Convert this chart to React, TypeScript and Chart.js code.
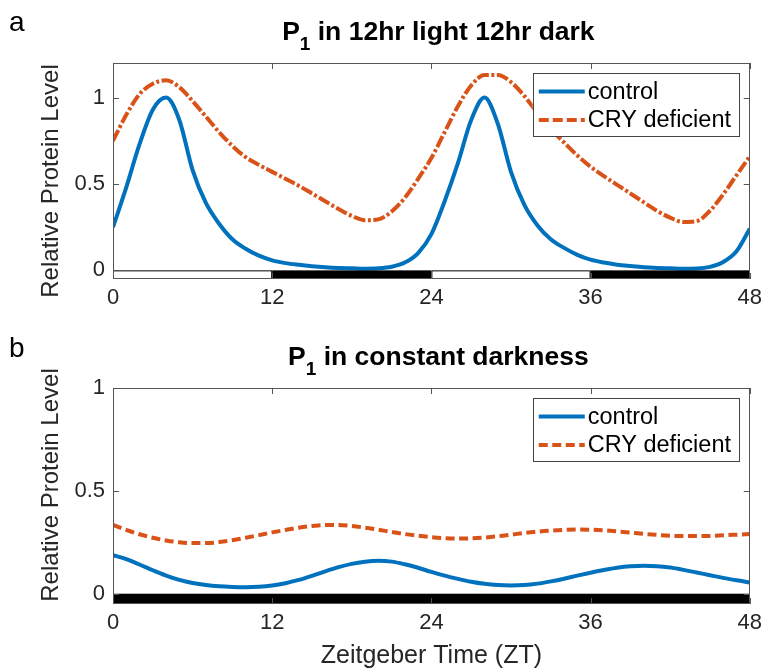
import React, { useEffect, useRef } from 'react';
import { Chart, registerables } from 'chart.js';

Chart.register(...registerables);

// ---------- data ----------
const hours = [
  0, 1, 2, 3, 4, 5, 6, 7, 8, 9, 10, 11, 12, 13, 14, 15, 16, 17, 18, 19, 20, 21, 22, 23, 24,
  25, 26, 27, 28, 29, 30, 31, 32, 33, 34, 35, 36, 37, 38, 39, 40, 41, 42, 43, 44, 45, 46, 47, 48,
];

// Panel a: 12hr light / 12hr dark
const ldControl = [
  0.25, 0.48, 0.73, 0.93, 1.0, 0.87, 0.58, 0.39, 0.27, 0.18, 0.125, 0.085, 0.058, 0.042, 0.032,
  0.024, 0.018, 0.014, 0.012, 0.01, 0.012, 0.021, 0.045, 0.1, 0.21, 0.4, 0.62, 0.87, 1.0, 0.85,
  0.57, 0.38, 0.26, 0.18, 0.13, 0.09, 0.062, 0.045, 0.033, 0.025, 0.018, 0.014, 0.012, 0.01, 0.011,
  0.02, 0.048, 0.11, 0.24,
];
const ldCry = [
  0.75, 0.9, 1.02, 1.08, 1.1, 1.06, 0.98, 0.89, 0.8, 0.72, 0.655, 0.61, 0.57, 0.53, 0.49, 0.445,
  0.4, 0.355, 0.315, 0.29, 0.295, 0.34, 0.42, 0.53, 0.65, 0.8, 0.95, 1.07, 1.13, 1.13, 1.09, 1.01,
  0.91, 0.82, 0.74, 0.665, 0.6, 0.545, 0.495, 0.445, 0.395, 0.345, 0.305, 0.28, 0.285, 0.345, 0.44,
  0.55, 0.66,
];

// Panel b: constant darkness
const ddControl = [
  0.188, 0.168, 0.142, 0.114, 0.088, 0.067, 0.052, 0.042, 0.036, 0.033, 0.032, 0.034, 0.04, 0.051,
  0.067, 0.087, 0.109, 0.129, 0.145, 0.155, 0.16, 0.156, 0.143, 0.126, 0.106, 0.088, 0.072, 0.058,
  0.048, 0.042, 0.04, 0.042, 0.049, 0.06, 0.073, 0.088, 0.102, 0.115, 0.126, 0.133, 0.136, 0.134,
  0.127, 0.116, 0.103, 0.09, 0.077, 0.065, 0.055,
];
const ddCry = [
  0.335, 0.31, 0.289, 0.272, 0.259, 0.25, 0.246, 0.246, 0.251, 0.26, 0.272, 0.285, 0.298, 0.31,
  0.321, 0.329, 0.334, 0.334, 0.329, 0.321, 0.311, 0.3, 0.29, 0.282, 0.275, 0.27, 0.268, 0.269,
  0.273, 0.279, 0.287, 0.295, 0.302, 0.307, 0.31, 0.312, 0.311, 0.308, 0.303, 0.297, 0.291, 0.286,
  0.282, 0.28, 0.28, 0.281, 0.284, 0.287, 0.29,
];

const seriesLabels = ['control', 'CRY deficient'];
const xTickValues = [0, 12, 24, 36, 48];
const xTickLabels = ['0', '12', '24', '36', '48'];
const yTickValues = [0, 0.5, 1];
const yTickLabels = ['0', '0.5', '1'];

// light/dark bar segments (hours), 1 = dark
const ldBarStarts = [0, 12, 24, 36];
const ldBarEnds = [12, 24, 36, 48];
const ldBarDark = [0, 1, 0, 1];
const ddBarStarts = [0];
const ddBarEnds = [48];
const ddBarDark = [1];

// ---------- style ----------
const FONT = '"Liberation Sans", Arial, Helvetica, sans-serif';
const BLUE = '#0072BD';
const ORANGE = '#D95319';
const AX = '#262626';

const decorPlugin = {
  id: 'decor',
  afterDatasetsDraw(chart: any, _args: any, opts: any) {
    const { ctx, chartArea: ca, scales } = chart;
    const xs = scales.x;
    const ys = scales.y;
    ctx.save();

    // light / dark bar
    const y0 = ys.getPixelForValue(0);
    const yb = ca.bottom;
    for (let i = 0; i < opts.barStarts.length; i++) {
      const x1 = xs.getPixelForValue(opts.barStarts[i]);
      const x2 = xs.getPixelForValue(opts.barEnds[i]);
      if (opts.barDark[i]) {
        ctx.fillStyle = '#000';
        ctx.fillRect(x1, y0, x2 - x1, yb - y0);
      } else {
        ctx.fillStyle = '#fff';
        ctx.fillRect(x1, y0, x2 - x1, yb - y0);
        ctx.strokeStyle = '#000';
        ctx.lineWidth = 1;
        ctx.strokeRect(x1 + 0.5, y0 + 0.5, x2 - x1 - 1, yb - y0 - 1);
      }
    }

    // axes box
    ctx.strokeStyle = '#555';
    ctx.lineWidth = 1;
    ctx.strokeRect(Math.round(ca.left) + 0.5, Math.round(ca.top) + 0.5, Math.round(ca.width) - 1, Math.round(ca.height) - 1);

    // inward ticks
    const tl = 6;
    ctx.beginPath();
    for (const v of xTickValues) {
      const x = Math.round(xs.getPixelForValue(v)) + 0.5;
      ctx.moveTo(x, ca.top);
      ctx.lineTo(x, ca.top + tl);
      ctx.moveTo(x, ca.bottom);
      ctx.lineTo(x, ca.bottom - tl);
    }
    for (const v of yTickValues) {
      const y = Math.round(ys.getPixelForValue(v)) + 0.5;
      ctx.moveTo(ca.left, y);
      ctx.lineTo(ca.left + tl, y);
      ctx.moveTo(ca.right, y);
      ctx.lineTo(ca.right - tl, y);
    }
    ctx.stroke();

    // legend
    const lw = 206;
    const lh = 63;
    const lx = ca.right - 11 - lw;
    const ly = ca.top + 10;
    ctx.fillStyle = '#fff';
    ctx.fillRect(lx, ly, lw, lh);
    ctx.strokeStyle = '#444';
    ctx.lineWidth = 1;
    ctx.strokeRect(Math.round(lx) + 0.5, Math.round(ly) + 0.5, lw, lh);
    chart.data.datasets.forEach((ds: any, i: number) => {
      const ry = ly + 18.5 + i * 28.5;
      ctx.save();
      ctx.strokeStyle = ds.borderColor;
      ctx.lineWidth = ds.borderWidth;
      ctx.setLineDash(opts.legendDash[i] || []);
      ctx.beginPath();
      ctx.moveTo(lx + 6, ry);
      ctx.lineTo(lx + 52, ry);
      ctx.stroke();
      ctx.restore();
      ctx.fillStyle = '#000';
      ctx.font = `23.5px ${FONT}`;
      ctx.textBaseline = 'middle';
      ctx.textAlign = 'left';
      ctx.fillText(ds.label, lx + 55, ry + 1);
    });

    // title with subscript
    const cx = (ca.left + ca.right) / 2 + 7;
    const tb = ca.top - opts.titleGap;
    ctx.fillStyle = '#000';
    ctx.textBaseline = 'alphabetic';
    ctx.textAlign = 'left';
    const bigF = `bold 26.5px ${FONT}`;
    const subF = `bold 19px ${FONT}`;
    ctx.font = bigF;
    const wP = ctx.measureText(opts.titleMain).width;
    const wRest = ctx.measureText(opts.titleRest).width;
    ctx.font = subF;
    const wSub = ctx.measureText(opts.titleSub).width;
    let tx = cx - (wP + wSub + wRest) / 2;
    ctx.font = bigF;
    ctx.fillText(opts.titleMain, tx, tb);
    tx += wP;
    ctx.font = subF;
    ctx.fillText(opts.titleSub, tx, tb + 10);
    tx += wSub;
    ctx.font = bigF;
    ctx.fillText(opts.titleRest, tx, tb);

    // y axis label
    ctx.save();
    ctx.translate(51, opts.yLabelCenter);
    ctx.rotate(-Math.PI / 2);
    ctx.font = `24px ${FONT}`;
    ctx.fillStyle = AX;
    ctx.textAlign = 'center';
    ctx.textBaseline = 'middle';
    ctx.fillText(opts.yLabel, 0, 0);
    ctx.restore();

    // x axis label
    if (opts.xLabel) {
      ctx.font = `25px ${FONT}`;
      ctx.fillStyle = AX;
      ctx.textAlign = 'center';
      ctx.textBaseline = 'middle';
      ctx.fillText(opts.xLabel, (ca.left + ca.right) / 2, opts.xLabelY);
    }

    // panel letter
    ctx.font = `28px ${FONT}`;
    ctx.fillStyle = '#000';
    ctx.textAlign = 'left';
    ctx.textBaseline = 'alphabetic';
    ctx.fillText(opts.letter, 9, opts.letterY);

    ctx.restore();
  },
};

function makeConfig(p: any): any {
  const tickFont = { family: FONT, size: 22 };
  return {
    type: 'line',
    data: {
      datasets: [
        {
          label: seriesLabels[0],
          data: hours.map((h, i) => ({ x: h, y: p.control[i] })),
          borderColor: BLUE,
          borderWidth: 4,
          pointRadius: 0,
          cubicInterpolationMode: 'monotone',
          fill: false,
        },
        {
          label: seriesLabels[1],
          data: hours.map((h, i) => ({ x: h, y: p.cry[i] })),
          borderColor: ORANGE,
          borderWidth: 4,
          borderDash: p.dash,
          pointRadius: 0,
          cubicInterpolationMode: 'monotone',
          fill: false,
        },
      ],
    },
    options: {
      responsive: false,
      animation: false,
      events: [],
      layout: { padding: { left: 0, right: 14, top: p.areaTop, bottom: 0 } },
      plugins: {
        legend: { display: false },
        title: { display: false },
        tooltip: { enabled: false },
        decor: p.decor,
      },
      scales: {
        x: {
          type: 'linear',
          min: 0,
          max: 48,
          afterBuildTicks: (s: any) => {
            s.ticks = xTickValues.map((v) => ({ value: v }));
          },
          afterFit: (s: any) => {
            s.height = p.xHeight;
          },
          grid: { display: false, drawTicks: false },
          border: { display: false },
          ticks: {
            color: AX,
            font: tickFont,
            padding: 6,
            maxRotation: 0,
            autoSkip: false,
            callback: (_v: any, i: number) => xTickLabels[i],
          },
        },
        y: {
          type: 'linear',
          min: -0.05,
          max: p.yMax,
          afterBuildTicks: (s: any) => {
            s.ticks = yTickValues.map((v) => ({ value: v }));
          },
          afterFit: (s: any) => {
            s.width = 113;
          },
          grid: { display: false, drawTicks: false },
          border: { display: false },
          ticks: {
            color: AX,
            font: tickFont,
            padding: 8,
            autoSkip: false,
            callback: (_v: any, i: number) => yTickLabels[i],
          },
        },
      },
    },
    plugins: [decorPlugin],
  };
}

const panelA = {
  control: ldControl,
  cry: ldCry,
  dash: [12, 2.5, 3, 2.5],
  areaTop: 63,
  xHeight: 41,
  yMax: 1.2,
  decor: {
    barStarts: ldBarStarts,
    barEnds: ldBarEnds,
    barDark: ldBarDark,
    titleMain: 'P',
    titleSub: '1',
    titleRest: ' in 12hr light 12hr dark',
    titleGap: 23,
    yLabel: 'Relative Protein Level',
    yLabelCenter: 181,
    xLabel: '',
    xLabelY: 0,
    letter: 'a',
    letterY: 31,
    legendDash: [[], [10, 4]],
  },
};

const panelB = {
  control: ddControl,
  cry: ddCry,
  dash: [9, 4.5],
  areaTop: 68,
  xHeight: 68,
  yMax: 1.0,
  decor: {
    barStarts: ddBarStarts,
    barEnds: ddBarEnds,
    barDark: ddBarDark,
    titleMain: 'P',
    titleSub: '1',
    titleRest: ' in constant darkness',
    titleGap: 23,
    yLabel: 'Relative Protein Level',
    yLabelCenter: 165,
    xLabel: 'Zeitgeber Time (ZT)',
    xLabelY: 336,
    letter: 'b',
    letterY: 37,
    legendDash: [[], [9, 4.5]],
  },
};

function Panel({ spec, height, top }: { spec: any; height: number; top: number }) {
  const ref = useRef<HTMLCanvasElement | null>(null);
  useEffect(() => {
    if (!ref.current) return;
    const chart = new Chart(ref.current, makeConfig(spec));
    return () => chart.destroy();
  }, [spec]);
  return (
    <canvas
      ref={ref}
      width={768}
      height={height}
      style={{ position: 'absolute', left: 0, top, width: 768, height, display: 'block' }}
    />
  );
}

export default function App() {
  return (
    <div style={{ position: 'absolute', left: 0, top: 0, width: 768, height: 672, background: '#fff' }}>
      <Panel spec={panelA} height={320} top={0} />
      <Panel spec={panelB} height={352} top={320} />
    </div>
  );
}
